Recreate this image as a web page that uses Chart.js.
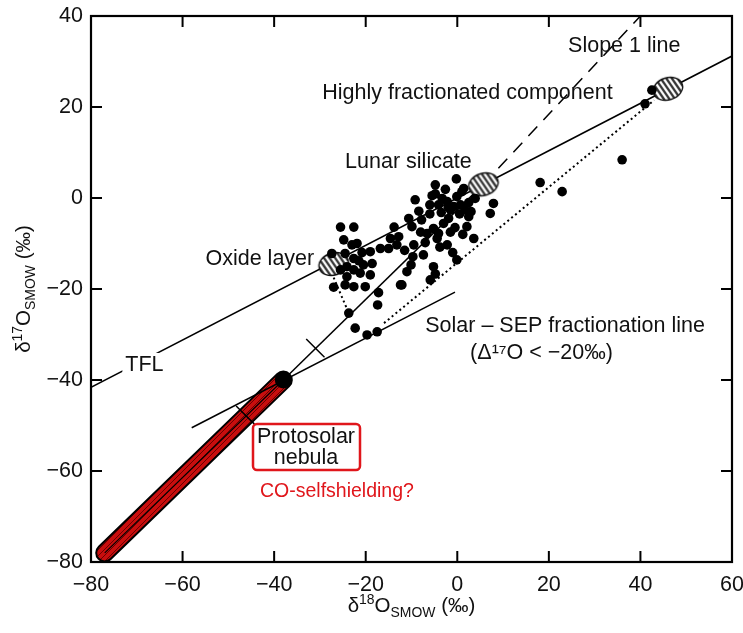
<!DOCTYPE html>
<html>
<head>
<meta charset="utf-8">
<script src="https://cdn.jsdelivr.net/npm/chart.js@4.4.1/dist/chart.umd.min.js"></script>
<style>
  html, body { margin: 0; padding: 0; background: #fff; }
  #wrap { width: 743px; height: 633px; }
</style>
</head>
<body>
<div id="wrap"><canvas id="oxygenChart"></canvas></div>
<script>
// Diagramme des isotopes de l'oxygène.

const police = "'Liberation Sans', Arial, Helvetica, sans-serif";
const rouge = '#e0161b';
const taille = 21.5;

// --- axes ---
const xMin = -80, xMax = 60, xStep = 20;
const yMin = -80, yMax = 40, yStep = 20;

// --- mesures (δ18O, δ17O) ---
const pointsX = [-0.2, -4.8, -2.6, -4.8, -3.3, -2.2, -9.2, -6, -4.1, -8.4, -10.6, -9.9, -13.8, -12.8, -14.6,
  -15, -16.8, -9.5, -9.7, -7.4, -10.1, -11, -12.1, -4.8, -5.9, -5.2, -6.6, -5.2, -4.1, -4.4, -3, -1.9,
  -2.2, -0.1, -1.5, -0.8, 0.7, 1.7, 2.1, 2.5, -0.1, 1, 1.4, 3.9, 3.6, 7.9, 7.2, -13.2, -12.4, -7.8,
  -3.5, -0.5, 1.2, -7, -1, 3, -6, -2, 0.5, -3.8, -8, -11.5, -1.5, 2.5, -5.5,
  -25.5, -22.6, -24.8, -23, -21.9, -27.4, -24.5, -22.6, -20.8, -19, -20.5, -18.6, -22.6, -24.1, -21.2,
  -19, -25.5, -24.1, -27, -24.5, -22.6, -20.1, -17.2, -17.4, -23.7, -22.3, -19.7, -17.5, -21.5,
  42.5, 41, 36, 18.1, 22.9];
const pointsY = [4.2, 2.9, 1.9, 0.9, -0.1, -0.8, -0.4, -1.5, -1.5, -2.9, -4.5, -6.3, -6.4, -8.5, -8.9,
  -11.1, -11.1, -10.3, -12.9, -12.5, -14.7, -16.2, -19.1, -16.7, -18, -15.1, -7.8, -6.7, -7.8, -8.9, -5.6, -4.5,
  -10.3, -13.6, -2.6, -1.9, -1.5, -2.6, -6.3, -4.1, 0.3, 1.4, 2.1, -0.1, -8.9, -1.2, -3.4, -10.3, -19.1, -4.8,
  -3.2, -6.5, -8, -9.8, -12, -3, -3.5, -2, -3.5, -10.8, -7.5, -11.5, -7.5, -1, 0.5,
  -6.4, -6.4, -9.2, -10.3, -10, -12.2, -12.2, -13.3, -12, -11.8, -14.7, -14.4, -15.8, -15.1, -16.5,
  -16.9, -15.8, -17.3, -19.6, -19.1, -19.5, -19.5, -20.8, -23.5, -25.3, -28.6, -30.1, -29.4, -13.8,
  23.7, 20.7, 8.4, 3.4, 1.4];

// --- pôles : couche d'oxyde, silicate lunaire, composante très fractionnée ---
const polesX = [-27, 5.7, 46];
const polesY = [-14.5, 3, 24];

// nébuleuse protosolaire
const protoX = [-38];
const protoY = [-40];

// --- droites ---
const tflX = [-80, 60];
const tflY = [-41.6, 31.2];
const pente1X = [-38, 5.7];
const pente1Y = [-40, 3];
const pente1TiretX = [5.7, 40];
const pente1TiretY = [3, 40];
const sepX = [-58, -0.5];
const sepY = [-50.5, -20.7];
const pointille1X = [-27, -23.7];
const pointille1Y = [-17.5, -25.3];
const pointille2X = [-16, 43];
const pointille2Y = [-27.5, 21.5];
const autoEcranX = [-77, -38];
const autoEcranY = [-78, -40];
const croix1X = [-33, -29];
const croix1Y = [-31, -35];
const croix2X = [-48.3, -44.3];
const croix2Y = [-45.7, -49.7];

const pts = (xs, ys) => xs.map((x, i) => ({ x, y: ys[i] }));

// motif hachuré rouge de la bande
const motif = (() => {
  const c = document.createElement('canvas');
  c.width = 6; c.height = 6;
  const g = c.getContext('2d');
  g.fillStyle = '#c80e0e';
  g.fillRect(0, 0, 6, 6);
  g.strokeStyle = '#6a0000';
  g.lineWidth = 1;
  g.beginPath();
  g.moveTo(0, 6); g.lineTo(6, 0);
  g.moveTo(-1, 1); g.lineTo(1, -1);
  g.moveTo(5, 7); g.lineTo(7, 5);
  g.stroke();
  return g.createPattern(c, 'repeat');
})();

// ellipse hachurée pour les pôles
const ellipse = (() => {
  const c = document.createElement('canvas');
  c.width = 40; c.height = 40;
  const g = c.getContext('2d');
  g.translate(20, 20);
  g.rotate(-0.3);
  g.beginPath();
  g.ellipse(0, 0, 15, 11, 0, 0, Math.PI * 2);
  g.fillStyle = '#fff';
  g.fill();
  g.save();
  g.clip();
  g.strokeStyle = '#333';
  g.lineWidth = 2.3;
  for (let k = -24; k <= 24; k += 4.8) {
    g.beginPath();
    g.moveTo(k - 5, -16); g.lineTo(k + 5, 16);
    g.stroke();
  }
  g.restore();
  g.lineWidth = 1.4;
  g.strokeStyle = '#111';
  g.beginPath();
  g.ellipse(0, 0, 15, 11, 0, 0, Math.PI * 2);
  g.stroke();
  return c;
})();

const ligne = (data, extra) => Object.assign({
  data, showLine: true, pointRadius: 0, borderColor: '#000', borderWidth: 1.5, fill: false,
}, extra);

// texte avec exposant / indice
function texteRiche(ctx, morceaux, x, y, t) {
  const larg = morceaux.reduce((s, m) => {
    ctx.font = `${m.t ? t * 0.68 : t}px ${police}`;
    return s + ctx.measureText(m.s).width;
  }, 0);
  let cx = x - larg / 2;
  ctx.textAlign = 'left';
  ctx.textBaseline = 'alphabetic';
  morceaux.forEach((m) => {
    ctx.font = `${m.t ? t * 0.68 : t}px ${police}`;
    const dy = m.t === 'sup' ? -t * 0.38 : m.t === 'sub' ? t * 0.25 : 0;
    ctx.fillText(m.s, cx, y + dy);
    cx += ctx.measureText(m.s).width;
  });
}

const decor = {
  id: 'decor',
  afterDraw(chart) {
    const { ctx, chartArea: a, scales: { x, y } } = chart;
    const px = (v) => x.getPixelForValue(v);
    const py = (v) => y.getPixelForValue(v);
    ctx.save();

    // cadre + graduations intérieures
    ctx.strokeStyle = '#000';
    ctx.lineWidth = 2.2;
    ctx.strokeRect(a.left, a.top, a.right - a.left, a.bottom - a.top);
    ctx.lineWidth = 2;
    ctx.beginPath();
    for (let v = xMin + xStep; v < xMax; v += xStep) {
      ctx.moveTo(px(v), a.bottom); ctx.lineTo(px(v), a.bottom - 11);
      ctx.moveTo(px(v), a.top); ctx.lineTo(px(v), a.top + 11);
    }
    for (let v = yMin + yStep; v < yMax; v += yStep) {
      ctx.moveTo(a.left, py(v)); ctx.lineTo(a.left + 11, py(v));
      ctx.moveTo(a.right, py(v)); ctx.lineTo(a.right - 11, py(v));
    }
    ctx.stroke();

    // étiquettes
    ctx.fillStyle = '#111';
    ctx.font = `${taille}px ${police}`;
    ctx.textBaseline = 'middle';
    ctx.textAlign = 'left';
    ctx.fillText('Slope 1 line', px(24.2), py(33.4));
    ctx.fillText('Highly fractionated component', px(-29.5), py(23.1));
    ctx.fillText('Lunar silicate', px(-24.5), py(7.9));
    ctx.fillText('Oxide layer', px(-55), py(-13.4));
    ctx.fillText('Solar \u2013 SEP fractionation line', px(-7), py(-28.1));
    ctx.fillText('(\u0394\u00b9\u2077O < \u221220\u2030)', px(2.8), py(-34.1));

    // TFL, sur fond blanc qui coupe la droite
    const wT = ctx.measureText('TFL').width;
    ctx.fillStyle = '#fff';
    ctx.fillRect(px(-72.5) - 3, py(-36.7) - 12, wT + 6, 24);
    ctx.fillStyle = '#111';
    ctx.fillText('TFL', px(-72.5), py(-36.7));

    // nébuleuse protosolaire
    ctx.strokeStyle = rouge;
    ctx.lineWidth = 2.5;
    ctx.beginPath();
    ctx.roundRect(253, 424, 107, 46, 4);
    ctx.fillStyle = '#fff';
    ctx.fill();
    ctx.stroke();
    ctx.fillStyle = '#111';
    ctx.textAlign = 'center';
    ctx.fillText('Protosolar', 306, 437);
    ctx.fillText('nebula', 306, 458);
    ctx.fillStyle = rouge;
    ctx.textAlign = 'left';
    ctx.font = `19.5px ${police}`;
    ctx.fillText('CO-selfshielding?', 260, 492);

    // titres des axes
    ctx.fillStyle = '#111';
    texteRiche(ctx, [{ s: '\u03b4' }, { s: '18', t: 'sup' }, { s: 'O' }, { s: 'SMOW', t: 'sub' }, { s: ' (\u2030)' }],
      (a.left + a.right) / 2, 612, 20.5);
    ctx.translate(30, (a.top + a.bottom) / 2);
    ctx.rotate(-Math.PI / 2);
    texteRiche(ctx, [{ s: '\u03b4' }, { s: '17', t: 'sup' }, { s: 'O' }, { s: 'SMOW', t: 'sub' }, { s: ' (\u2030)' }],
      0, 0, 20.5);
    ctx.restore();
  },
};

new Chart(document.getElementById('oxygenChart'), {
  type: 'scatter',
  data: {
    datasets: [
      { data: pts(pointsX, pointsY), pointRadius: 4.8, backgroundColor: '#000', borderWidth: 0 },
      { data: pts(polesX, polesY), pointStyle: ellipse },
      { data: pts(protoX, protoY), pointRadius: 8.5, backgroundColor: '#000', borderWidth: 0 },
      ligne(pts(tflX, tflY)),
      ligne(pts(pente1X, pente1Y)),
      ligne(pts(pente1TiretX, pente1TiretY), { borderDash: [13, 9] }),
      ligne(pts(sepX, sepY)),
      ligne(pts(pointille1X, pointille1Y), { borderDash: [2, 3], borderWidth: 2 }),
      ligne(pts(pointille2X, pointille2Y), { borderDash: [2, 3], borderWidth: 2 }),
      ligne(pts(croix1X, croix1Y)),
      ligne(pts(croix2X, croix2Y)),
      ligne(pts(autoEcranX, autoEcranY), { borderWidth: 1.2 }),
      ligne(pts(autoEcranX, autoEcranY), { borderWidth: 15, borderColor: motif, borderCapStyle: 'round' }),
      ligne(pts(autoEcranX, autoEcranY), { borderWidth: 19, borderColor: '#000', borderCapStyle: 'round' }),
    ],
  },
  options: {
    responsive: true,
    maintainAspectRatio: false,
    animation: false,
    events: [],
    layout: { padding: { top: 16, right: 0, left: 0, bottom: 0 } },
    plugins: { legend: { display: false }, tooltip: { enabled: false } },
    scales: {
      x: {
        min: xMin, max: xMax,
        grid: { display: false, drawTicks: false },
        border: { display: false },
        afterFit: (s) => { s.height = 71; s.paddingRight = 11; s.paddingLeft = 0; },
        ticks: {
          stepSize: xStep, padding: 10, color: '#111',
          font: { family: police, size: taille },
          callback: (v) => String(v).replace('-', '\u2212'),
        },
      },
      y: {
        min: yMin, max: yMax,
        grid: { display: false, drawTicks: false },
        border: { display: false },
        afterFit: (s) => { s.width = 91; s.paddingTop = 0; s.paddingBottom = 0; },
        ticks: {
          stepSize: yStep, padding: 8, color: '#111',
          font: { family: police, size: taille },
          callback: (v) => String(v).replace('-', '\u2212'),
        },
      },
    },
  },
  plugins: [decor],
});
</script>
</body>
</html>
